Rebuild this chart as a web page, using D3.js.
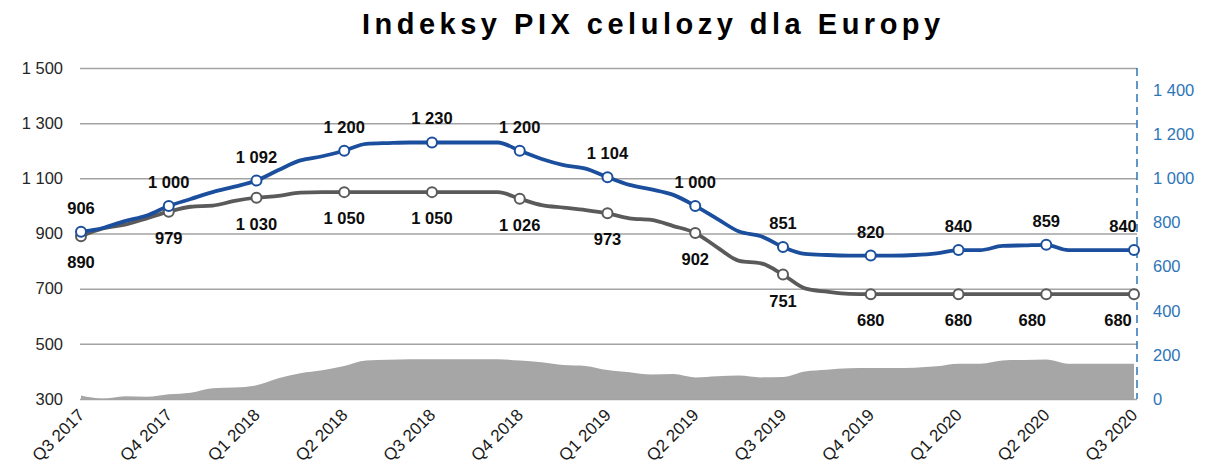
<!DOCTYPE html>
<html>
<head>
<meta charset="utf-8">
<script src="https://cdn.jsdelivr.net/npm/d3@7"></script>
<style>
  html, body { margin: 0; padding: 0; background: #fff; }
  svg { display: block; font-family: "Liberation Sans", Arial, sans-serif; }
</style>
</head>
<body>
<svg id="chart" width="1219" height="473"></svg>
<script>
// ---- data ----
const title = "Indeksy PIX celulozy dla Europy";
const quarters = ["Q3 2017","Q4 2017","Q1 2018","Q2 2018","Q3 2018","Q4 2018","Q1 2019","Q2 2019","Q3 2019","Q4 2019","Q1 2020","Q2 2020","Q3 2020"];
// 4 readings per quarter (index 0..48), quarter points at every 4th index
const nbsk = [906,920,945,965,1000,1025,1050,1070,1092,1130,1165,1180,1200,1225,1228,1230,1230,1230,1230,1230,1200,1170,1148,1135,1104,1076,1060,1040,1000,953,907,890,851,826,822,820,820,820,822,828,840,840,855,857,859,840,840,840,840];
const bhkp = [890,918,932,955,979,997,1001,1018,1030,1036,1048,1050,1050,1050,1050,1050,1050,1050,1050,1050,1026,1003,994,985,973,955,949,927,902,850,801,792,751,701,689,681,680,680,680,680,680,680,680,680,680,680,680,680,680];
const leftTicks = [300,500,700,900,1100,1300,1500];
const rightTicks = [0,200,400,600,800,1000,1200,1400];

// ---- layout ----
const svg = d3.select("#chart");
const x0 = 81, x1 = 1134, plotL = 80, plotR = 1137, yTop = 68, yBot = 399;
const x = d3.scaleLinear().domain([0, nbsk.length - 1]).range([x0, x1]);
const yL = d3.scaleLinear().domain([300, 1500]).range([yBot, yTop]);
const yR = d3.scaleLinear().domain([0, 1500]).range([yBot, yTop]);
const fmt = v => v >= 1000 ? Math.floor(v / 1000) + " " + String(v % 1000).padStart(3, "0") : String(v);
const blue = "#1b4f9d", grey = "#5a5a5a", areaCol = "#a6a6a6", axisBlue = "#2e75b6";

// title
svg.append("text").attr("x", 362).attr("y", 34)
  .attr("font-size", 29).attr("font-weight", "bold").attr("letter-spacing", 4.5)
  .attr("fill", "#000").text(title);

// spread area (right axis)
const spread = nbsk.map((v, i) => v - bhkp[i]);
svg.append("path").datum(spread)
  .attr("fill", areaCol)
  .attr("d", d3.area().x((d, i) => x(i)).y0(yR(0)).y1(d => yR(d)).curve(d3.curveMonotoneX));

// left axis + gridlines
const gL = svg.append("g").attr("transform", `translate(${plotL},0)`)
  .call(d3.axisLeft(yL).tickValues(leftTicks).tickFormat(fmt).tickSize(-(plotR - plotL)).tickPadding(17));
gL.select(".domain").remove();
gL.selectAll(".tick line").attr("stroke", "#a3a3a3").attr("stroke-width", 1.5);
gL.selectAll(".tick text").attr("font-size", 16.5).attr("fill", "#262626")
  .attr("font-family", "Liberation Sans, Arial, sans-serif");

// right axis
const gR = svg.append("g").attr("transform", `translate(${plotR},0)`)
  .call(d3.axisRight(yR).tickValues(rightTicks).tickFormat(fmt).tickSize(0).tickPadding(16));
gR.select(".domain").remove();
gR.selectAll(".tick text").attr("font-size", 16.5).attr("fill", axisBlue)
  .attr("font-family", "Liberation Sans, Arial, sans-serif");
svg.append("line").attr("x1", plotR).attr("x2", plotR).attr("y1", yTop).attr("y2", yBot)
  .attr("stroke", axisBlue).attr("stroke-width", 1.5).attr("stroke-dasharray", "8,5");

// x axis labels
const qIdx = quarters.map((q, i) => i * 4);
const gX = svg.append("g").attr("transform", `translate(0,${yBot})`)
  .call(d3.axisBottom(x).tickValues(qIdx).tickFormat((d, i) => quarters[i]).tickSize(0));
gX.select(".domain").remove();
gX.selectAll(".tick text")
  .attr("font-size", 17).attr("fill", "#1a1a1a").attr("font-family", "Liberation Sans, Arial, sans-serif")
  .attr("text-anchor", "end").attr("dy", null).attr("y", 0)
  .attr("transform", "translate(4,17) rotate(-45)");

// lines
const line = d3.line().x((d, i) => x(i)).curve(d3.curveMonotoneX);
svg.append("path").datum(bhkp).attr("fill", "none").attr("stroke", grey).attr("stroke-width", 3.8)
  .attr("stroke-linejoin", "round").attr("d", line.y(d => yL(d)));
svg.append("path").datum(nbsk).attr("fill", "none").attr("stroke", blue).attr("stroke-width", 3.8)
  .attr("stroke-linejoin", "round").attr("d", line.y(d => yL(d)));

// markers + labels at quarter points
const series = [
  {data: bhkp, color: grey, dy: 32, dx: q => q === 12 ? -16 : (q === 11 ? -14 : 0)},
  {data: nbsk, color: blue, dy: -18, dx: q => q === 12 ? -11 : 0}
];
series.forEach(s => {
  svg.append("g").selectAll("circle").data(qIdx).join("circle")
    .attr("cx", i => x(i)).attr("cy", i => yL(s.data[i])).attr("r", 5)
    .attr("fill", "#fff").attr("stroke", s.color).attr("stroke-width", 2);
  svg.append("g").selectAll("text").data(qIdx).join("text")
    .attr("x", (i, q) => x(i) + s.dx(q)).attr("y", i => yL(s.data[i]) + s.dy)
    .attr("text-anchor", "middle").attr("font-size", 16.5).attr("font-weight", "bold").attr("fill", "#0d0d0d")
    .text(i => fmt(s.data[i]));
});
</script>
</body>
</html>
